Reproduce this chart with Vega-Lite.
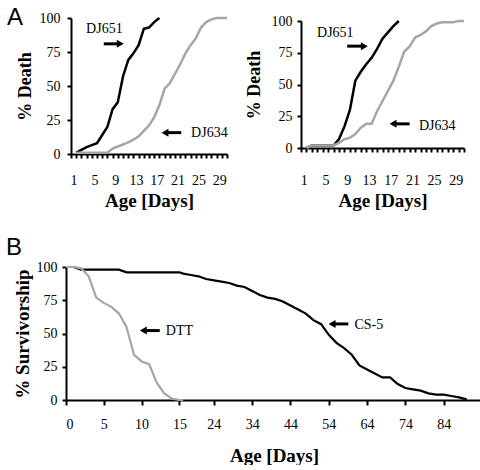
{
  "$schema": "https://vega.github.io/schema/vega-lite/v6.json",
  "padding": {"left": 5, "top": 6, "right": 0, "bottom": 0},
  "config": {
    "font": "Liberation Serif",
    "view": {"stroke": null},
    "axis": {
      "grid": false, "labelOverlap": false,
      "domainColor": "black", "tickColor": "black", "labelColor": "black", "titleColor": "black",
      "labelFont": "Liberation Serif", "titleFont": "Liberation Serif",
      "labelFontSize": 14, "titleFontSize": 19, "titleFontWeight": "bold",
      "domainWidth": 2, "tickWidth": 2, "tickSize": 4
    },
    "title": {"font": "Liberation Sans", "fontSize": 24, "fontWeight": "normal", "color": "black", "anchor": "start", "frame": "bounds"},
    "text": {"font": "Liberation Serif", "fontSize": 14, "color": "black"}
  },
  "datasets": {
    "aLeft": [
      {"day": 1, "pct": 1, "strain": "DJ651"}, {"day": 2, "pct": 3, "strain": "DJ651"}, {"day": 3, "pct": 5, "strain": "DJ651"},
      {"day": 4, "pct": 6.5, "strain": "DJ651"}, {"day": 5, "pct": 8, "strain": "DJ651"}, {"day": 6, "pct": 14, "strain": "DJ651"},
      {"day": 7, "pct": 20, "strain": "DJ651"}, {"day": 8, "pct": 33, "strain": "DJ651"}, {"day": 9, "pct": 38, "strain": "DJ651"},
      {"day": 10, "pct": 57, "strain": "DJ651"}, {"day": 11, "pct": 69, "strain": "DJ651"}, {"day": 12, "pct": 74, "strain": "DJ651"},
      {"day": 13, "pct": 80, "strain": "DJ651"}, {"day": 14, "pct": 92, "strain": "DJ651"}, {"day": 15, "pct": 93, "strain": "DJ651"},
      {"day": 16, "pct": 97, "strain": "DJ651"}, {"day": 17, "pct": 100, "strain": "DJ651"},
      {"day": 1, "pct": 1, "strain": "DJ634"}, {"day": 2, "pct": 1, "strain": "DJ634"}, {"day": 3, "pct": 1, "strain": "DJ634"},
      {"day": 4, "pct": 1, "strain": "DJ634"}, {"day": 5, "pct": 1, "strain": "DJ634"}, {"day": 6, "pct": 1, "strain": "DJ634"},
      {"day": 7, "pct": 1, "strain": "DJ634"}, {"day": 8, "pct": 4, "strain": "DJ634"}, {"day": 9, "pct": 5.5, "strain": "DJ634"},
      {"day": 10, "pct": 7, "strain": "DJ634"}, {"day": 11, "pct": 8.5, "strain": "DJ634"}, {"day": 12, "pct": 10.5, "strain": "DJ634"},
      {"day": 13, "pct": 13, "strain": "DJ634"}, {"day": 14, "pct": 17, "strain": "DJ634"}, {"day": 15, "pct": 21, "strain": "DJ634"},
      {"day": 16, "pct": 27, "strain": "DJ634"}, {"day": 17, "pct": 36, "strain": "DJ634"}, {"day": 18, "pct": 48, "strain": "DJ634"},
      {"day": 19, "pct": 52, "strain": "DJ634"}, {"day": 20, "pct": 59, "strain": "DJ634"}, {"day": 21, "pct": 66, "strain": "DJ634"},
      {"day": 22, "pct": 74, "strain": "DJ634"}, {"day": 23, "pct": 80, "strain": "DJ634"}, {"day": 24, "pct": 85, "strain": "DJ634"},
      {"day": 25, "pct": 93, "strain": "DJ634"}, {"day": 26, "pct": 97, "strain": "DJ634"}, {"day": 27, "pct": 99, "strain": "DJ634"},
      {"day": 28, "pct": 100, "strain": "DJ634"}, {"day": 29, "pct": 100, "strain": "DJ634"}, {"day": 30, "pct": 100, "strain": "DJ634"}
    ],
    "aRight": [
      {"day": 1, "pct": 0, "strain": "DJ651"}, {"day": 2, "pct": 2, "strain": "DJ651"}, {"day": 3, "pct": 2, "strain": "DJ651"},
      {"day": 4, "pct": 2, "strain": "DJ651"}, {"day": 5, "pct": 2, "strain": "DJ651"}, {"day": 6, "pct": 2, "strain": "DJ651"},
      {"day": 7, "pct": 7, "strain": "DJ651"}, {"day": 8, "pct": 17, "strain": "DJ651"}, {"day": 9, "pct": 30, "strain": "DJ651"},
      {"day": 10, "pct": 53, "strain": "DJ651"}, {"day": 11, "pct": 60, "strain": "DJ651"}, {"day": 12, "pct": 66, "strain": "DJ651"},
      {"day": 13, "pct": 71, "strain": "DJ651"}, {"day": 14, "pct": 78, "strain": "DJ651"}, {"day": 15, "pct": 86, "strain": "DJ651"},
      {"day": 16, "pct": 91, "strain": "DJ651"}, {"day": 17, "pct": 96, "strain": "DJ651"}, {"day": 18, "pct": 100, "strain": "DJ651"},
      {"day": 1, "pct": 0, "strain": "DJ634"}, {"day": 2, "pct": 2, "strain": "DJ634"}, {"day": 3, "pct": 2, "strain": "DJ634"},
      {"day": 4, "pct": 2, "strain": "DJ634"}, {"day": 5, "pct": 2, "strain": "DJ634"}, {"day": 6, "pct": 2, "strain": "DJ634"},
      {"day": 7, "pct": 4, "strain": "DJ634"}, {"day": 8, "pct": 7, "strain": "DJ634"}, {"day": 9, "pct": 8, "strain": "DJ634"},
      {"day": 10, "pct": 11, "strain": "DJ634"}, {"day": 11, "pct": 16, "strain": "DJ634"}, {"day": 12, "pct": 19, "strain": "DJ634"},
      {"day": 13, "pct": 19, "strain": "DJ634"}, {"day": 14, "pct": 29, "strain": "DJ634"}, {"day": 15, "pct": 37, "strain": "DJ634"},
      {"day": 16, "pct": 45, "strain": "DJ634"}, {"day": 17, "pct": 53, "strain": "DJ634"}, {"day": 18, "pct": 64, "strain": "DJ634"},
      {"day": 19, "pct": 76, "strain": "DJ634"}, {"day": 20, "pct": 80, "strain": "DJ634"}, {"day": 21, "pct": 87, "strain": "DJ634"},
      {"day": 22, "pct": 89, "strain": "DJ634"}, {"day": 23, "pct": 92, "strain": "DJ634"}, {"day": 24, "pct": 96, "strain": "DJ634"},
      {"day": 25, "pct": 98, "strain": "DJ634"}, {"day": 26, "pct": 99, "strain": "DJ634"}, {"day": 27, "pct": 99, "strain": "DJ634"},
      {"day": 28, "pct": 99, "strain": "DJ634"}, {"day": 29, "pct": 100, "strain": "DJ634"}, {"day": 30, "pct": 100, "strain": "DJ634"}
    ],
    "bData": [
      {"day": 0, "pct": 100, "strain": "CS-5"}, {"day": 1, "pct": 100, "strain": "CS-5"}, {"day": 2, "pct": 98, "strain": "CS-5"},
      {"day": 3, "pct": 98, "strain": "CS-5"}, {"day": 4, "pct": 98, "strain": "CS-5"}, {"day": 5, "pct": 98, "strain": "CS-5"},
      {"day": 6, "pct": 98, "strain": "CS-5"}, {"day": 7, "pct": 98, "strain": "CS-5"}, {"day": 8, "pct": 96, "strain": "CS-5"},
      {"day": 9, "pct": 96, "strain": "CS-5"}, {"day": 10, "pct": 96, "strain": "CS-5"}, {"day": 11, "pct": 96, "strain": "CS-5"},
      {"day": 12, "pct": 96, "strain": "CS-5"}, {"day": 13, "pct": 96, "strain": "CS-5"}, {"day": 14, "pct": 96, "strain": "CS-5"},
      {"day": 15, "pct": 96, "strain": "CS-5"}, {"day": 16, "pct": 95, "strain": "CS-5"}, {"day": 18, "pct": 94, "strain": "CS-5"},
      {"day": 20, "pct": 93, "strain": "CS-5"}, {"day": 22, "pct": 91, "strain": "CS-5"}, {"day": 24, "pct": 90, "strain": "CS-5"},
      {"day": 26, "pct": 89, "strain": "CS-5"}, {"day": 28, "pct": 88, "strain": "CS-5"}, {"day": 30, "pct": 86, "strain": "CS-5"},
      {"day": 32, "pct": 85, "strain": "CS-5"}, {"day": 34, "pct": 82, "strain": "CS-5"}, {"day": 36, "pct": 79, "strain": "CS-5"},
      {"day": 38, "pct": 77, "strain": "CS-5"}, {"day": 40, "pct": 76, "strain": "CS-5"}, {"day": 42, "pct": 74, "strain": "CS-5"},
      {"day": 44, "pct": 71, "strain": "CS-5"}, {"day": 46, "pct": 68, "strain": "CS-5"}, {"day": 48, "pct": 65, "strain": "CS-5"},
      {"day": 50, "pct": 60, "strain": "CS-5"}, {"day": 52, "pct": 57, "strain": "CS-5"}, {"day": 54, "pct": 49, "strain": "CS-5"},
      {"day": 56, "pct": 43, "strain": "CS-5"}, {"day": 58, "pct": 39, "strain": "CS-5"}, {"day": 60, "pct": 34, "strain": "CS-5"},
      {"day": 62, "pct": 26, "strain": "CS-5"}, {"day": 64, "pct": 23, "strain": "CS-5"}, {"day": 66, "pct": 20, "strain": "CS-5"},
      {"day": 68, "pct": 17, "strain": "CS-5"}, {"day": 70, "pct": 17, "strain": "CS-5"}, {"day": 72, "pct": 12, "strain": "CS-5"},
      {"day": 74, "pct": 9, "strain": "CS-5"}, {"day": 76, "pct": 8, "strain": "CS-5"}, {"day": 78, "pct": 7, "strain": "CS-5"},
      {"day": 80, "pct": 5, "strain": "CS-5"}, {"day": 82, "pct": 4, "strain": "CS-5"}, {"day": 84, "pct": 4, "strain": "CS-5"},
      {"day": 86, "pct": 3, "strain": "CS-5"}, {"day": 88, "pct": 2, "strain": "CS-5"}, {"day": 90, "pct": 0.5, "strain": "CS-5"},
      {"day": 0, "pct": 100, "strain": "DTT"}, {"day": 1, "pct": 100, "strain": "DTT"}, {"day": 2, "pct": 99, "strain": "DTT"},
      {"day": 3, "pct": 93, "strain": "DTT"}, {"day": 4, "pct": 77, "strain": "DTT"}, {"day": 5, "pct": 73, "strain": "DTT"},
      {"day": 6, "pct": 70, "strain": "DTT"}, {"day": 7, "pct": 65, "strain": "DTT"}, {"day": 8, "pct": 55, "strain": "DTT"},
      {"day": 9, "pct": 34, "strain": "DTT"}, {"day": 10, "pct": 29, "strain": "DTT"}, {"day": 11, "pct": 27, "strain": "DTT"},
      {"day": 12, "pct": 13, "strain": "DTT"}, {"day": 13, "pct": 5, "strain": "DTT"}, {"day": 14, "pct": 1, "strain": "DTT"},
      {"day": 15, "pct": 0, "strain": "DTT"}, {"day": 16, "pct": 0, "strain": "DTT"}
    ],
    "aLeftText": [
      {"label": "DJ651", "ax": 3.4, "pct": 92},
      {"label": "DJ634", "ax": 23.6, "pct": 15.8}
    ],
    "aLeftArrows": [
      {"ax": 6.8, "ax2": 10.0, "hx": 9.98, "pct": 81, "dir": "triangle-right"},
      {"ax": 18.5, "ax2": 21.7, "hx": 18.57, "pct": 15.7, "dir": "triangle-left"}
    ],
    "aRightText": [
      {"label": "DJ651", "ax": 3.45, "pct": 90.7},
      {"label": "DJ634", "ax": 22.2, "pct": 17.5}
    ],
    "aRightArrows": [
      {"ax": 9.0, "ax2": 12.1, "hx": 12.16, "pct": 80.2, "dir": "triangle-right"},
      {"ax": 17.4, "ax2": 20.5, "hx": 17.44, "pct": 19, "dir": "triangle-left"}
    ],
    "bText": [
      {"label": "DTT", "day": 13.2, "pct": 51.8},
      {"label": "CS-5", "day": 60.7, "pct": 56.7}
    ],
    "bArrows": [
      {"day": 10.2, "day2": 12.4, "hx": 10.23, "pct": 52.2, "dir": "triangle-left"},
      {"day": 54.8, "day2": 59.1, "hx": 54.86, "pct": 57.2, "dir": "triangle-left"}
    ]
  },
  "columns": 1,
  "align": "none",
  "spacing": {"row": 26, "column": 0},
  "concat": [
    {
      "title": {"text": "A", "dx": -9, "dy": 23},
      "spacing": 13,
      "hconcat": [
        {
          "width": 161, "height": 136,
          "resolve": {"scale": {"x": "independent"}},
          "layer": [
            {
              "data": {"name": "aLeft"},
              "mark": {"type": "line", "strokeWidth": 2.5},
              "encoding": {
                "x": {"field": "day", "type": "ordinal", "bandPosition": 1,
                      "scale": {"domain": [1,2,3,4,5,6,7,8,9,10,11,12,13,14,15,16,17,18,19,20,21,22,23,24,25,26,27,28,29,30], "range": [5, 161], "paddingInner": 0, "paddingOuter": 0},
                      "axis": {"title": "Age [Days]", "tickBand": "extent", "labelAngle": 0, "labelPadding": 15, "titlePadding": 4, "labelOverlap": false,
                               "labelExpr": "(datum.value - 1) % 4 == 0 ? datum.label : ''"}},
                "y": {"field": "pct", "type": "quantitative", "scale": {"domain": [0, 100]},
                      "axis": {"title": "% Death", "values": [0, 25, 50, 75, 100], "tickCount": 20, "offset": -5, "labelOverlap": false, "labelPadding": 7, "titlePadding": 5, "titleFontSize": 18}},
                "color": {"field": "strain", "type": "nominal", "scale": {"domain": ["DJ651", "DJ634"], "range": ["#000000", "#a6a6a6"]}, "legend": null}
              }
            },
            {
              "data": {"name": "aLeftText"},
              "mark": {"type": "text", "align": "left", "baseline": "middle"},
              "encoding": {
                "x": {"field": "ax", "type": "quantitative", "scale": {"domain": [0.5, 30.5], "range": [5, 161], "nice": false, "zero": false}, "axis": null},
                "y": {"field": "pct", "type": "quantitative"},
                "text": {"field": "label"}
              }
            },
            {
              "data": {"name": "aLeftArrows"},
              "layer": [
                {"mark": {"type": "rule", "strokeWidth": 3, "color": "black"},
                 "encoding": {"x": {"field": "ax", "type": "quantitative", "scale": {"domain": [0.5, 30.5], "range": [5, 161], "nice": false, "zero": false}, "axis": null},
                              "x2": {"field": "ax2"}, "y": {"field": "pct", "type": "quantitative"}}},
                {"mark": {"type": "point", "filled": true, "size": 64, "color": "black", "opacity": 1},
                 "encoding": {"x": {"field": "hx", "type": "quantitative", "scale": {"domain": [0.5, 30.5], "range": [5, 161], "nice": false, "zero": false}, "axis": null},
                              "y": {"field": "pct", "type": "quantitative"},
                              "shape": {"field": "dir", "type": "nominal", "scale": null}}}
              ]
            }
          ]
        },
        {
          "width": 163, "height": 133,
          "resolve": {"scale": {"x": "independent"}},
          "layer": [
            {
              "data": {"name": "aRight"},
              "mark": {"type": "line", "strokeWidth": 2.5},
              "encoding": {
                "x": {"field": "day", "type": "ordinal", "bandPosition": 1,
                      "scale": {"domain": [1,2,3,4,5,6,7,8,9,10,11,12,13,14,15,16,17,18,19,20,21,22,23,24,25,26,27,28,29,30], "paddingInner": 0, "paddingOuter": 0},
                      "axis": {"title": "Age [Days]", "tickBand": "extent", "labelAngle": 0, "offset": -3, "labelPadding": 21, "titlePadding": 4, "labelOverlap": false,
                               "labelExpr": "(datum.value - 1) % 4 == 0 ? datum.label : ''"}},
                "y": {"field": "pct", "type": "quantitative", "scale": {"domain": [0, 100], "range": [130, 3]},
                      "axis": {"title": "% Death", "values": [0, 25, 50, 75, 100], "tickCount": 20, "labelOverlap": false, "labelPadding": 5, "titlePadding": 8, "titleFontSize": 18}},
                "color": {"field": "strain", "type": "nominal", "scale": {"domain": ["DJ651", "DJ634"], "range": ["#000000", "#a6a6a6"]}, "legend": null}
              }
            },
            {
              "data": {"name": "aRightText"},
              "mark": {"type": "text", "align": "left", "baseline": "middle"},
              "encoding": {
                "x": {"field": "ax", "type": "quantitative", "scale": {"domain": [0.5, 30.5], "nice": false, "zero": false}, "axis": null},
                "y": {"field": "pct", "type": "quantitative"},
                "text": {"field": "label"}
              }
            },
            {
              "data": {"name": "aRightArrows"},
              "layer": [
                {"mark": {"type": "rule", "strokeWidth": 3, "color": "black"},
                 "encoding": {"x": {"field": "ax", "type": "quantitative", "scale": {"domain": [0.5, 30.5], "nice": false, "zero": false}, "axis": null},
                              "x2": {"field": "ax2"}, "y": {"field": "pct", "type": "quantitative"}}},
                {"mark": {"type": "point", "filled": true, "size": 64, "color": "black", "opacity": 1},
                 "encoding": {"x": {"field": "hx", "type": "quantitative", "scale": {"domain": [0.5, 30.5], "nice": false, "zero": false}, "axis": null},
                              "y": {"field": "pct", "type": "quantitative"},
                              "shape": {"field": "dir", "type": "nominal", "scale": null}}}
              ]
            }
          ]
        }
      ]
    },
    {
      "title": {"text": "B", "dx": -7, "offset": 0},
      "width": 416, "height": 133,
      "layer": [
        {
          "data": {"name": "bData"},
          "mark": {"type": "line", "strokeWidth": 2.2},
          "encoding": {
            "x": {"field": "day", "type": "quantitative",
                  "scale": {"domain": [0, 15, 94], "range": [0, 113.4, 416], "nice": false, "zero": false},
                  "axis": {"title": "Age [Days]", "values": [0, 5, 10, 15, 24, 34, 44, 54, 64, 74, 84, 94], "tickCount": 30, "labelOverlap": false, "tickSize": 5, "labelPadding": 12, "titlePadding": 15,
                           "labelExpr": "datum.value == 94 ? '' : datum.label"}},
            "y": {"field": "pct", "type": "quantitative", "scale": {"domain": [0, 100]},
                  "axis": {"title": "% Survivorship", "values": [0, 25, 50, 75, 100], "tickCount": 20, "labelOverlap": false, "labelPadding": 5, "titlePadding": 4}},
            "color": {"field": "strain", "type": "nominal", "scale": {"domain": ["CS-5", "DTT"], "range": ["#000000", "#a6a6a6"]}, "legend": null}
          }
        },
        {
          "data": {"name": "bText"},
          "mark": {"type": "text", "align": "left", "baseline": "middle"},
          "encoding": {
            "x": {"field": "day", "type": "quantitative"},
            "y": {"field": "pct", "type": "quantitative"},
            "text": {"field": "label"}
          }
        },
        {
          "data": {"name": "bArrows"},
          "layer": [
            {"mark": {"type": "rule", "strokeWidth": 3, "color": "black"},
             "encoding": {"x": {"field": "day", "type": "quantitative"}, "x2": {"field": "day2"}, "y": {"field": "pct", "type": "quantitative"}}},
            {"mark": {"type": "point", "filled": true, "size": 64, "color": "black", "opacity": 1},
             "encoding": {"x": {"field": "hx", "type": "quantitative"}, "y": {"field": "pct", "type": "quantitative"},
                          "shape": {"field": "dir", "type": "nominal", "scale": null}}}
          ]
        }
      ]
    }
  ]
}
